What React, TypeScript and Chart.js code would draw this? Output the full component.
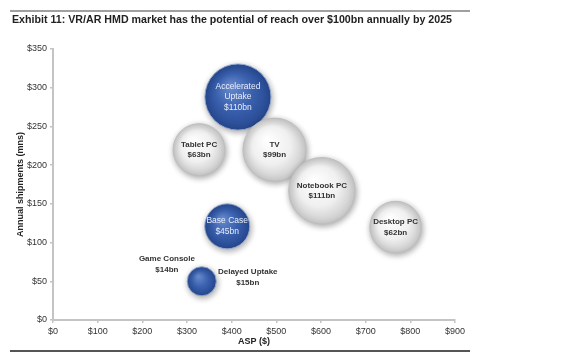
import React, { useEffect, useRef } from "react";
import { Chart, registerables } from "chart.js";

Chart.register(...registerables);

const TITLE = "Exhibit 11: VR/AR HMD market has the potential of reach over $100bn annually by 2025";
const names = ["Accelerated Uptake", "Tablet PC", "TV", "Notebook PC", "Desktop PC", "Base Case", "Delayed Uptake", "Game Console"];
const labelLines = [
  ["Accelerated", "Uptake", "$110bn"],
  ["Tablet PC", "$63bn"],
  ["TV", "$99bn"],
  ["Notebook PC", "$111bn"],
  ["Desktop PC", "$62bn"],
  ["Base Case", "$45bn"],
  ["Delayed Uptake", "$15bn"],
  ["Game Console", "$14bn"],
];
const asp = [414, 327, 496, 602, 767, 390, 333, 255];
const shipments = [288, 220, 220, 167, 120, 121, 50, 72];
const revenue = [110, 63, 99, 111, 62, 45, 15, 14];
const scenario = [true, false, false, false, false, true, true, false];
const hidden = [false, false, false, false, false, false, false, true];
const xTicks = [0, 100, 200, 300, 400, 500, 600, 700, 800, 900];
const yTicks = [0, 50, 100, 150, 200, 250, 300, 350];

// label offsets (px) relative to bubble centre
const labelOffsets = [[0, 0], [0, 0], [0, 0], [0, 0], [0, 0], [0, 0], [46, -4], [0, 0]];

const FONT = "'Liberation Sans', Arial, sans-serif";

export default function App() {
  const ref = useRef<HTMLCanvasElement | null>(null);
  useEffect(() => {
    document.body.style.margin = "0";
    const canvas = ref.current!;
    const radiusFor = (v: number) => 3.7 + 2.8 * Math.sqrt(v);

    const fill = (ctx: any) => {
      if (ctx.type !== "data") return "rgba(0,0,0,0)";
      const i = ctx.dataIndex;
      if (hidden[i]) return "rgba(0,0,0,0)";
      const flat = scenario[i] ? "#3b62b0" : "#eeeeee";
      const chart = ctx.chart;
      const raw = ctx.raw;
      if (!chart.scales || !chart.scales.x || !chart.scales.y) return flat;
      const x = chart.scales.x.getPixelForValue(raw.x);
      const y = chart.scales.y.getPixelForValue(raw.y);
      const r = raw.r;
      if (![x, y, r].every((v) => Number.isFinite(v))) return flat;
      const g = chart.ctx.createRadialGradient(x - r * 0.25, y - r * 0.35, 0, x, y, r);
      if (scenario[i]) {
        g.addColorStop(0, "#6a8ccd");
        g.addColorStop(0.55, "#3a60ae");
        g.addColorStop(1, "#26488f");
      } else {
        g.addColorStop(0, "#ffffff");
        g.addColorStop(0.6, "#f0f0f0");
        g.addColorStop(1, "#cacaca");
      }
      return g;
    };

    const shadowPlugin = {
      id: "shadow",
      beforeDatasetDraw(chart: any) {
        const c = chart.ctx;
        c.save();
        c.shadowColor = "rgba(0,0,0,0.35)";
        c.shadowBlur = 6;
        c.shadowOffsetX = 1;
        c.shadowOffsetY = 2;
      },
      afterDatasetDraw(chart: any) {
        chart.ctx.restore();
      },
    };

    const decorPlugin = {
      id: "decor",
      afterDraw(chart: any) {
        const c = chart.ctx;
        c.save();
        c.strokeStyle = "#a0a0a0";
        c.lineWidth = 2;
        c.beginPath();
        c.moveTo(10, 11);
        c.lineTo(470, 11);
        c.stroke();
        c.strokeStyle = "#555555";
        c.beginPath();
        c.moveTo(10, 351);
        c.lineTo(470, 351);
        c.stroke();
        c.fillStyle = "#222";
        c.font = `bold 10.7px ${FONT}`;
        c.textAlign = "left";
        c.textBaseline = "middle";
        c.fillText(TITLE, 12, 20, 440);
        const meta = chart.getDatasetMeta(0);
        meta.data.forEach((el: any, i: number) => {
          const lines = labelLines[i];
          const [dx, dy] = labelOffsets[i];
          const lh = 10.5;
          const cx = el.x + dx;
          const cy = el.y + dy;
          c.textAlign = "center";
          c.textBaseline = "middle";
          if (scenario[i] && dx === 0) {
            c.fillStyle = "#e8eefa";
            c.font = `8.5px ${FONT}`;
          } else {
            c.fillStyle = "#333";
            c.font = `bold 8px ${FONT}`;
          }
          lines.forEach((t, k) => {
            c.fillText(t, cx, cy + (k - (lines.length - 1) / 2) * lh);
          });
        });
        c.restore();
      },
    };

    const chart = new Chart(canvas, {
      type: "bubble",
      data: {
        datasets: [
          {
            label: "Market",
            data: names.map((_, i) => ({ x: asp[i], y: shipments[i], r: radiusFor(revenue[i]) })),
            backgroundColor: fill,
            borderColor: names.map((_, i) => (hidden[i] ? "rgba(0,0,0,0)" : scenario[i] ? "rgba(150,170,210,0.9)" : "#bdbdbd")),
            borderWidth: 1,
          },
        ],
      },
      options: {
        responsive: false,
        animation: false,
        layout: { padding: { left: 15, right: 111, top: 49, bottom: 12 } },
        plugins: { legend: { display: false }, tooltip: { enabled: false } },
        scales: {
          x: {
            type: "linear",
            min: 0,
            max: 900,
            afterBuildTicks: (s: any) => { s.ticks = xTicks.map((v) => ({ value: v })); },
            afterFit: (s: any) => { s.height = 27; },
            ticks: { callback: (v: any) => "$" + v, font: { family: FONT, size: 9 }, color: "#333", padding: 3, maxRotation: 0, autoSkip: false },
            grid: { display: true, drawOnChartArea: false, drawTicks: true, tickLength: 3, color: "#c4c4c4", lineWidth: 1.5 },
            border: { color: "#c4c4c4", width: 2 },
            title: { display: true, text: "ASP ($)", font: { family: FONT, size: 9, weight: "bold" }, color: "#222", padding: 0 },
          },
          y: {
            type: "linear",
            min: 0,
            max: 350,
            afterBuildTicks: (s: any) => { s.ticks = yTicks.map((v) => ({ value: v })); },
            afterFit: (s: any) => { s.width = 38; },
            ticks: { callback: (v: any) => "$" + v, font: { family: FONT, size: 9 }, color: "#333", padding: 3 },
            grid: { display: true, drawOnChartArea: false, drawTicks: true, tickLength: 3, color: "#c4c4c4", lineWidth: 1.5 },
            border: { color: "#c4c4c4", width: 2 },
            title: { display: true, text: "Annual shipments (mns)", font: { family: FONT, size: 9, weight: "bold" }, color: "#222", padding: 0 },
          },
        },
      },
      plugins: [shadowPlugin, decorPlugin],
    });
    return () => chart.destroy();
  }, []);
  return (
    <div style={{ width: 566, height: 359, background: "#fff" }}>
      <canvas ref={ref} width={566} height={359} />
    </div>
  );
}
